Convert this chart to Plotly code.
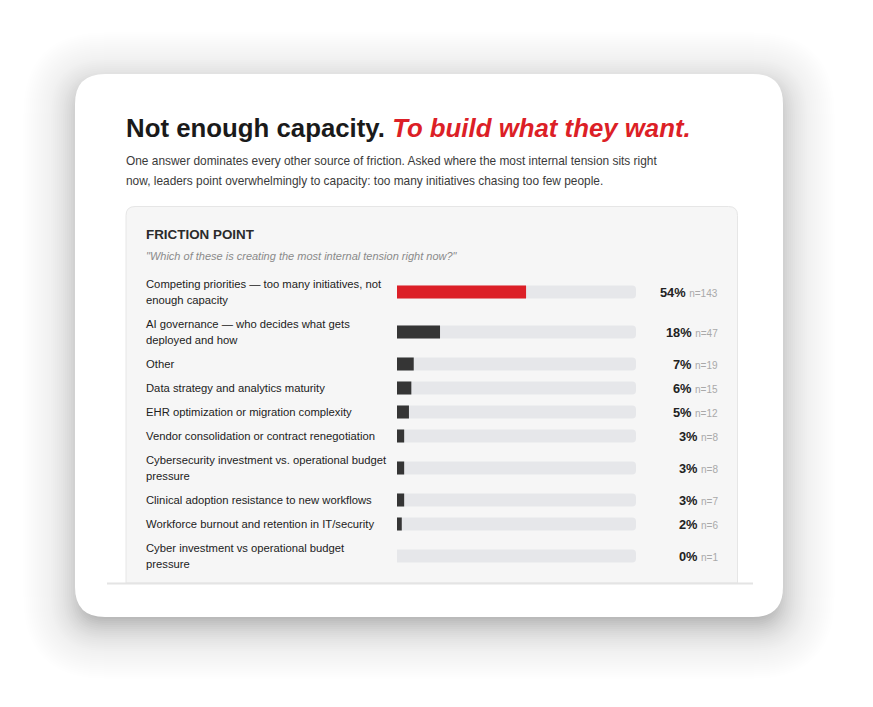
import math
import plotly.graph_objects as go

# ---------------- data ----------------
labels = [
    "Competing priorities — too many initiatives, not<br>enough capacity",
    "AI governance — who decides what gets<br>deployed and how",
    "Other",
    "Data strategy and analytics maturity",
    "EHR optimization or migration complexity",
    "Vendor consolidation or contract renegotiation",
    "Cybersecurity investment vs. operational budget<br>pressure",
    "Clinical adoption resistance to new workflows",
    "Workforce burnout and retention in IT/security",
    "Cyber investment vs operational budget<br>pressure",
]
pcts = [54, 18, 7, 6, 5, 3, 3, 3, 2, 0]
counts = [143, 47, 19, 15, 12, 8, 8, 7, 6, 1]

title_a = "Not enough capacity."
title_b = "To build what they want."
subtitle_lines = [
    "One answer dominates every other source of friction. Asked where the most internal tension sits right",
    "now, leaders point overwhelmingly to capacity: too many initiatives chasing too few people.",
]
panel_title = "FRICTION POINT"
question = '"Which of these is creating the most internal tension right now?"'

# ---------------- layout helpers ----------------
W, H = 873, 707          # window size
OFF = 8                  # page body margin
FW, FH = W - OFF, H - OFF
FONT = "Liberation Sans, Arial, Helvetica, sans-serif"
RED = "#dc1f27"
DARK = "#353535"
TRACK = "#e6e7ea"


def rr_path(x0, y0, x1, y1, r, bottom_round=True):
    rb = r if bottom_round else 0
    p = f"M {x0+r},{y0} L {x1-r},{y0} Q {x1},{y0} {x1},{y0+r} "
    if rb:
        p += f"L {x1},{y1-rb} Q {x1},{y1} {x1-rb},{y1} L {x0+rb},{y1} Q {x0},{y1} {x0},{y1-rb} "
    else:
        p += f"L {x1},{y1} L {x0},{y1} "
    p += f"L {x0},{y0+r} Q {x0},{y0} {x0+r},{y0} Z"
    return p


shapes = []
# card shadow (layered to approximate a soft blur)
cx0, cy0, cx1, cy1, cr = 75, 74, 783, 617, 30
dy, step, EMAX = 10, 2, 80
es = list(range(-10, EMAX + 1, step))


def shadow_dark(t):
    v = 0.19 * (math.exp(-t / 27.0) - math.exp(-EMAX / 27.0))
    return max(0.0, min(v, 0.6))


P = [1 - shadow_dark(e - step / 2) for e in es] + [1.0]
for k in range(len(es) - 1, -1, -1):
    e = es[k]
    a = 1 - P[k] / P[k + 1]
    if a <= 0:
        continue
    r = max(cr + e, 4)
    shapes.append(dict(type="path", xref="x", yref="y", layer="below",
                       path=rr_path(cx0 - e, cy0 + dy - e, cx1 + e, cy1 + dy + e, r),
                       fillcolor=f"rgba(0,0,0,{a:.4f})", line=dict(width=0)))
# card
shapes.append(dict(type="path", xref="x", yref="y", layer="below",
                   path=rr_path(cx0, cy0, cx1, cy1, cr),
                   fillcolor="#ffffff", line=dict(width=0)))
# inner panel (clipped at bottom)
shapes.append(dict(type="path", xref="x", yref="y", layer="below",
                   path=rr_path(126, 206.5, 737.5, 583, 9, bottom_round=False),
                   fillcolor="#f6f6f6", line=dict(color="#e6e6e6", width=1)))
# bottom divider line
shapes.append(dict(type="line", xref="x", yref="y", layer="below",
                   x0=107, x1=753, y0=583.5, y1=583.5,
                   line=dict(color="#e4e4e4", width=2)))

# row geometry from label line counts
row_top = 272
centers = []
y = row_top
for lab in labels:
    h = 40 if "<br>" in lab else 24
    centers.append(y + h / 2)
    y += h

annotations = []
annotations.append(dict(
    x=124, y=128, xref="x", yref="y", xanchor="left", yanchor="middle", showarrow=False,
    text=f"<b>{title_a}</b> <span style='color:{RED}'><b><i>{title_b}</i></b></span>",
    font=dict(family=FONT, size=25.8, color="#1a1a1a")))
for i, line in enumerate(subtitle_lines):
    annotations.append(dict(
        x=123.5, y=160.5 + 20 * i, xref="x", yref="y", xanchor="left", yanchor="middle",
        showarrow=False, text=line, font=dict(family=FONT, size=11.9, color="#3a3a3a")))
annotations.append(dict(
    x=143.5, y=234, xref="x", yref="y", xanchor="left", yanchor="middle", showarrow=False,
    text=f"<b>{panel_title}</b>", font=dict(family=FONT, size=13.4, color="#2b2b2b")))
annotations.append(dict(
    x=143.5, y=256, xref="x", yref="y", xanchor="left", yanchor="middle", showarrow=False,
    text=f"<i>{question}</i>", font=dict(family=FONT, size=11, color="#8a8a8a")))

for lab, c, p, n in zip(labels, centers, pcts, counts):
    parts = lab.split("<br>")
    offs = [-8, 8] if len(parts) == 2 else [0]
    for part, o in zip(parts, offs):
        annotations.append(dict(
            x=143.5, y=c + o, xref="x", yref="y", xanchor="left", yanchor="middle",
            showarrow=False, text=part, font=dict(family=FONT, size=11.25, color="#222222")))
    annotations.append(dict(
        x=719.5, y=c + 0.5, xref="x", yref="y", xanchor="right", yanchor="middle", showarrow=False,
        text=f"<b>{p}%</b> <span style='font-size:10px;color:#a9a9a9'>n={n}</span>",
        font=dict(family=FONT, size=12.8, color="#222222")))

bar_colors = [RED if i == 0 else DARK for i in range(len(pcts))]

fig = go.Figure()
fig.add_trace(go.Bar(
    x=[100] * len(pcts), y=centers, orientation="h", width=[13] * len(pcts),
    xaxis="x2", yaxis="y", marker=dict(color=TRACK, cornerradius=4, line=dict(width=0)),
    hoverinfo="skip", showlegend=False))
fig.add_trace(go.Bar(
    x=pcts, y=centers, orientation="h", width=[13] * len(pcts),
    xaxis="x2", yaxis="y", marker=dict(color=bar_colors, cornerradius=4, line=dict(width=0)),
    hoverinfo="skip", showlegend=False))

fig.update_layout(
    width=FW, height=FH, margin=dict(l=0, r=0, t=0, b=0),
    paper_bgcolor="#ffffff", plot_bgcolor="rgba(0,0,0,0)",
    barmode="overlay", showlegend=False,
    xaxis=dict(range=[OFF, W], domain=[0, 1], visible=False, fixedrange=True),
    yaxis=dict(range=[H, OFF], domain=[0, 1], visible=False, fixedrange=True),
    xaxis2=dict(range=[0, 100], domain=[(397 - OFF) / FW, (636 - OFF) / FW], anchor="y",
                visible=False, fixedrange=True),
    shapes=shapes, annotations=annotations,
)

fig.write_html("out.html")
